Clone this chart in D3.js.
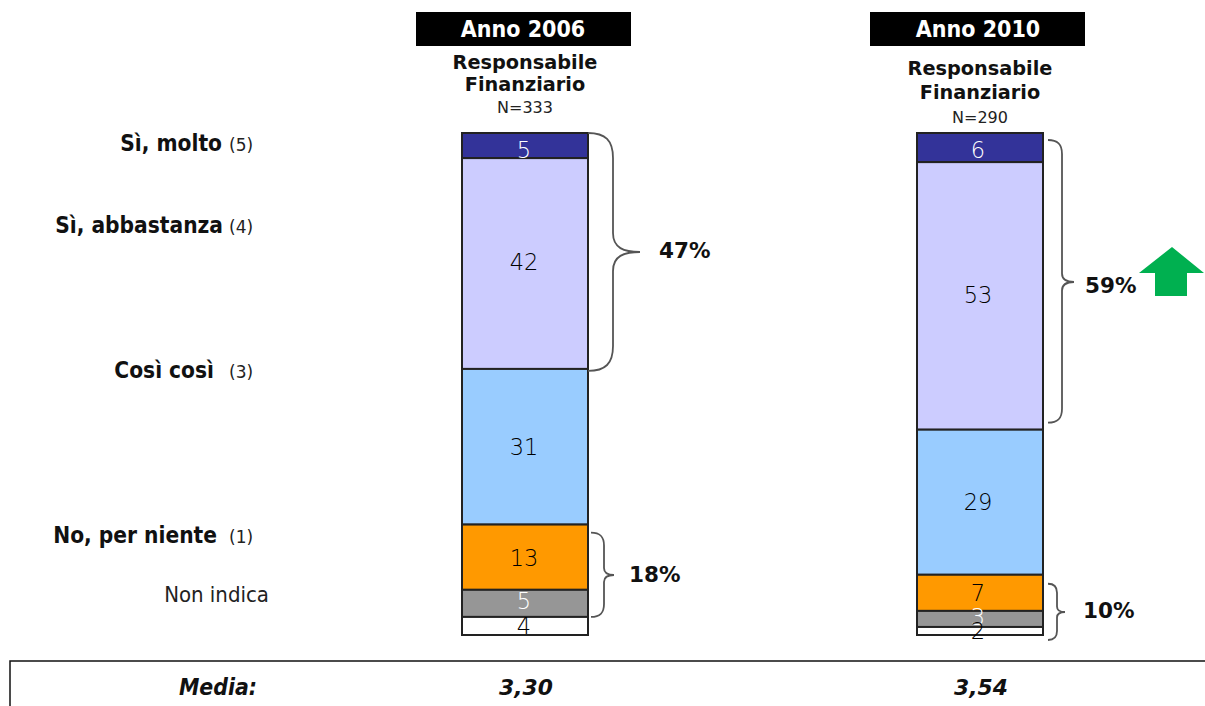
<!DOCTYPE html>
<html>
<head>
<meta charset="utf-8">
<title>Anno 2006 / Anno 2010</title>
<script src="https://cdn.jsdelivr.net/npm/d3@7"></script>
<style>
html, body { margin: 0; padding: 0; background: #fff; overflow: hidden; }
text { font-family: "DejaVu Sans", sans-serif; fill: #111; }
.thin { font-stretch: condensed; }
</style>
</head>
<body>
<script>
var years = ["Anno 2006", "Anno 2010"];
var groupName = ["Responsabile", "Finanziario"];
var sampleSizes = ["N=333", "N=290"];
var fills = ["#333399", "#CCCCFF", "#99CCFF", "#FF9900", "#969696", "#FFFFFF"];

// percentages, top to bottom
var values2006 = [5, 42, 31, 13, 5.4, 3.6];
var values2010 = [5.8, 53.3, 28.9, 7.2, 3.2, 1.6];
var labels2006 = ["5", "42", "31", "13", "5", "4"];
var labels2010 = ["6", "53", "29", "7", "3", "2"];

var answerLabels = ["Sì, molto", "Sì, abbastanza", "Così così", "No, per niente", "Non indica"];
var answerCodes = ["(5)", "(4)", "(3)", "(1)", ""];

var braceLabels2006 = ["47%", "18%"];
var braceLabels2010 = ["59%", "10%"];
var meanLabel = "Media:";
var means = ["3,30", "3,54"];

var width = 1205,
	height = 706,
	barWidth = 126;

var svg = d3.select("body").append("svg")
	.attr("width", width)
	.attr("height", height)
	.style("display", "block");

var x = d3.scalePoint().domain(years).range([525, 980]);
var y = d3.scaleLinear().domain([0, 100]).range([133, 635]);

function stack(values, labels){
	var total = 0;
	return values.map(function(v, i){
		var d = {y0: total, y1: total + v, label: labels[i], fill: fills[i]};
		total += v;
		return d;
	});
}

var columns = [
	{year: years[0], n: sampleSizes[0], mean: means[0], segs: stack(values2006, labels2006), subY: [62, 84, 107], headDx: -109, textDx: -1, nudge: [4, -2, 0, 1, -2, 0]},
	{year: years[1], n: sampleSizes[1], mean: means[1], segs: stack(values2010, labels2010), subY: [68, 92, 117], headDx: -110, textDx: -2, nudge: [2, -1, 0, 0, -2, 0]}
];

// headers
var head = svg.selectAll(".head").data(columns).enter().append("g").attr("class", "head");

head.append("rect")
	.attr("x", function(d){ return x(d.year) + d.headDx; })
	.attr("y", 12)
	.attr("width", 215)
	.attr("height", 34)
	.attr("fill", "#000");

head.append("text")
	.attr("class", "thin")
	.attr("x", function(d){ return x(d.year) - 2; })
	.attr("y", 37)
	.attr("text-anchor", "middle")
	.style("fill", "#fff")
	.style("font-weight", "bold")
	.style("font-size", "23px")
	.text(function(d){ return d.year; });

groupName.forEach(function(line, i){
	head.append("text")
		.attr("x", function(d){ return x(d.year); })
		.attr("y", function(d){ return d.subY[i] + 7; })
		.attr("text-anchor", "middle")
		.style("font-weight", "bold")
		.style("font-size", "19.3px")
		.text(line);
});

head.append("text")
	.attr("x", function(d){ return x(d.year); })
	.attr("y", function(d){ return d.subY[2] + 6; })
	.attr("text-anchor", "middle")
	.style("font-size", "16px")
	.style("fill", "#222")
	.text(function(d){ return d.n; });

// bars
var bars = svg.selectAll(".bar").data(columns).enter().append("g").attr("class", "bar");

bars.selectAll("rect")
	.data(function(d){ return d.segs; })
	.enter()
	.append("rect")
	.attr("x", function(){ return x(d3.select(this.parentNode).datum().year) - barWidth / 2; })
	.attr("y", function(d){ return y(d.y0); })
	.attr("width", barWidth)
	.attr("height", function(d){ return y(d.y1) - y(d.y0); })
	.attr("fill", function(d){ return d.fill; })
	.attr("stroke", "#222")
	.attr("stroke-width", 2);

bars.selectAll("text")
	.data(function(d){ return d.segs.map(function(s, i){ return {s: s, col: d, i: i}; }); })
	.enter()
	.append("text")
	.attr("class", "thin")
	.attr("x", function(d){ return x(d.col.year) + d.col.textDx; })
	.attr("y", function(d){ return (y(d.s.y0) + y(d.s.y1)) / 2 + d.col.nudge[d.i]; })
	.attr("dy", ".36em")
	.attr("text-anchor", "middle")
	.style("font-size", "22.5px")
	.style("font-weight", 300)
	.style("fill", function(d){ return (d.i == 0 || d.i == 4) ? "#fff" : "#000"; })
	.text(function(d){ return d.s.label; });

// curly brace opening on the left, tip pointing right
function bracePath(x0, xm, xt, y0, yt, y1){
	var r = xm - x0;
	var t = xt - xm;
	return "M" + x0 + "," + y0
		+ "C" + (x0 + r * 0.7) + "," + y0 + " " + xm + "," + (y0 + r * 0.3) + " " + xm + "," + (y0 + r)
		+ "L" + xm + "," + (yt - t * 0.7)
		+ "C" + xm + "," + (yt - t * 0.15) + " " + (xm + t * 0.4) + "," + yt + " " + xt + "," + yt
		+ "C" + (xm + t * 0.4) + "," + yt + " " + xm + "," + (yt + t * 0.15) + " " + xm + "," + (yt + t * 0.7)
		+ "L" + xm + "," + (y1 - r)
		+ "C" + xm + "," + (y1 - r * 0.3) + " " + (x0 + r * 0.7) + "," + y1 + " " + x0 + "," + y1;
}

var c0 = columns[0].segs, c1 = columns[1].segs;

var braces = [
	{x0: x(years[0]) + 63, xm: 613, xt: 640, y0: y(c0[0].y0), yt: 252, y1: y(c0[1].y1) + 2, label: braceLabels2006[0], lx: 659, ly: 258},
	{x0: x(years[0]) + 66, xm: 604, xt: 614, y0: y(c0[3].y0) + 8, yt: 575, y1: y(c0[4].y1), label: braceLabels2006[1], lx: 629, ly: 582},
	{x0: x(years[1]) + 68, xm: 1062, xt: 1074, y0: y(c1[0].y0) + 7, yt: 282, y1: y(c1[1].y1) - 7, label: braceLabels2010[0], lx: 1085, ly: 293},
	{x0: x(years[1]) + 68, xm: 1057, xt: 1065, y0: y(c1[3].y0) + 9, yt: 612, y1: y(c1[5].y1) + 5, label: braceLabels2010[1], lx: 1083, ly: 618}
];

svg.selectAll(".brace").data(braces).enter().append("path")
	.attr("class", "brace")
	.attr("d", function(d){ return bracePath(d.x0, d.xm, d.xt, d.y0, d.yt, d.y1); })
	.attr("fill", "none")
	.attr("stroke", "#555")
	.attr("stroke-width", 1.8);

svg.selectAll(".brace-label").data(braces).enter().append("text")
	.attr("class", "brace-label")
	.attr("x", function(d){ return d.lx; })
	.attr("y", function(d){ return d.ly; })
	.style("font-weight", "bold")
	.style("font-size", "21.5px")
	.text(function(d){ return d.label; });

// up arrow
svg.append("path")
	.attr("d", "M1172,247L1204,273L1187,273L1187,296L1155,296L1155,273L1139,273Z")
	.attr("fill", "#00B050");

// answer labels on the left
var labelY = [151, 233, 378, 543, 602];
var labelEnd = [222, 223, 214, 217, 269];

svg.selectAll(".answer").data(answerLabels).enter().append("text")
	.attr("class", "answer thin")
	.attr("x", function(d, i){ return labelEnd[i]; })
	.attr("y", function(d, i){ return labelY[i]; })
	.attr("text-anchor", "end")
	.style("font-weight", function(d, i){ return i == 4 ? "normal" : "bold"; })
	.style("font-size", function(d, i){ return i == 4 ? "22px" : "22.5px"; })
	.style("fill", function(d, i){ return i == 4 ? "#222" : "#111"; })
	.text(function(d){ return d; });

svg.selectAll(".code").data(answerCodes).enter().append("text")
	.attr("class", "code")
	.attr("x", 229)
	.attr("y", function(d, i){ return labelY[i]; })
	.style("font-size", "17px")
	.style("fill", "#222")
	.text(function(d){ return d; });

// box with the means
svg.append("path")
	.attr("d", "M10,706L10,661L" + width + ",661")
	.attr("fill", "none")
	.attr("stroke", "#111")
	.attr("stroke-width", 1.5);

svg.append("text")
	.attr("class", "thin")
	.attr("x", 218)
	.attr("y", 695)
	.attr("text-anchor", "middle")
	.style("font-weight", "bold")
	.style("font-style", "italic")
	.style("font-size", "22.8px")
	.text(meanLabel);

svg.selectAll(".mean").data(columns).enter().append("text")
	.attr("class", "mean")
	.attr("x", function(d){ return x(d.year) + 1; })
	.attr("y", 695)
	.attr("text-anchor", "middle")
	.style("font-weight", "bold")
	.style("font-style", "italic")
	.style("font-size", "21.8px")
	.text(function(d){ return d.mean; });
</script>
</body>
</html>
